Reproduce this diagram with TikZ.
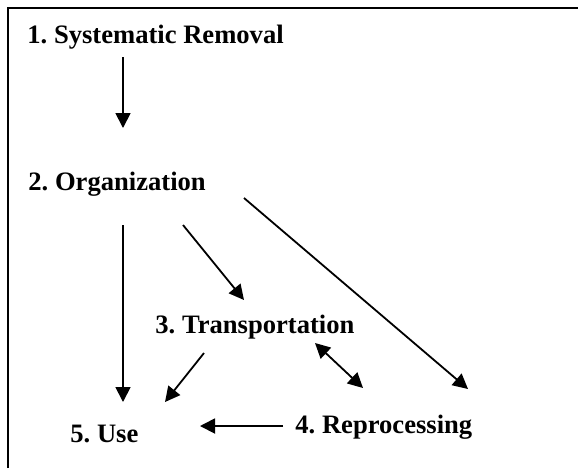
\documentclass[tikz,border=0pt]{standalone}
\usepackage{fontspec}
\setmainfont{Liberation Serif}
\usetikzlibrary{arrows.meta,calc}

\begin{document}
\frenchspacing
\begin{tikzpicture}[x=0.5pt,y=-0.5pt,
    stage/.style={anchor=base west,inner sep=0pt,font=\bfseries\fontsize{13.3}{16}\selectfont},
    arr/.style={-{Triangle[length=7.5pt,width=7.5pt]},line width=0.9pt},
    darr/.style={{Triangle[length=7.5pt,width=7.5pt]}-{Triangle[length=7.5pt,width=7.5pt]},line width=0.9pt}]
  \useasboundingbox (0,0) rectangle (578,468);
  % frame (only top and left show)
  \draw[line width=1.2pt] (8,468) -- (8,8) -- (578,8);
  % Stages
  \node[stage] (sys)   at (27,43.5) {1. Systematic Removal};
  \node[stage] (org)   at (28,190)  {2. Organization};
  \node[stage] (trans) at (155,333) {3. Transportation};
  \node[stage] (repro) at (295,433) {4. Reprocessing};
  \node[stage] (use)   at (70,442)  {5. Use};
  % Flows
  \draw[arr] ($(sys.base west)+(96,13.5)$) -- ($(org.base west)+(95,-62)$);
  \draw[arr] ($(org.base west)+(95,35)$) -- ($(use.base west)+(53,-40)$);
  \draw[arr] ($(org.base west)+(155,35)$) -- ($(trans.base west)+(89,-33)$);
  \draw[arr] ($(org.base west)+(216,8)$) -- ($(repro.base west)+(173,-44)$);
  \draw[arr] ($(trans.base west)+(49,20)$) -- ($(use.base west)+(95,-40)$);
  \draw[darr] ($(trans.base west)+(160,10)$) -- ($(repro.base west)+(68,-45)$);
  \draw[arr] ($(repro.base west)+(-12,-7)$) -- ($(use.base west)+(130,-16)$);
\end{tikzpicture}
\end{document}
